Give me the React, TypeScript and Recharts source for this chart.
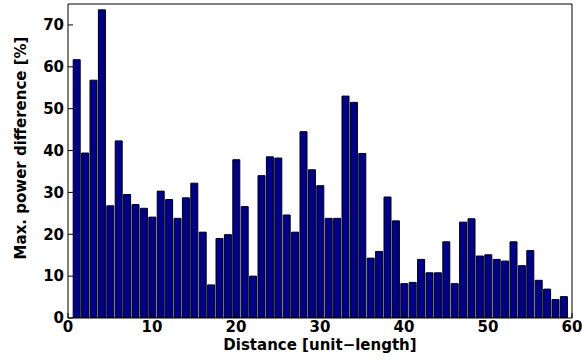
import { BarChart, Bar, XAxis, YAxis } from "recharts";

const distances = [
  1, 2, 3, 4, 5, 6, 7, 8, 9, 10, 11, 12, 13, 14, 15, 16, 17, 18, 19, 20,
  21, 22, 23, 24, 25, 26, 27, 28, 29, 30, 31, 32, 33, 34, 35, 36, 37, 38, 39, 40,
  41, 42, 43, 44, 45, 46, 47, 48, 49, 50, 51, 52, 53, 54, 55, 56, 57, 58, 59,
];

const maxPowerDiff = [
  61.7, 39.4, 56.8, 73.6, 26.8, 42.3, 29.5, 27.1, 26.2, 24.1, 30.3, 28.3, 23.8, 28.7, 32.2, 20.5, 7.9, 19.0, 19.9, 37.8,
  26.6, 10.0, 34.0, 38.5, 38.2, 24.6, 20.5, 44.5, 35.4, 31.6, 23.8, 23.8, 53.0, 51.5, 39.3, 14.3, 15.9, 28.9, 23.2, 8.2,
  8.5, 14.0, 10.8, 10.8, 18.2, 8.2, 22.9, 23.7, 14.8, 15.1, 14.0, 13.6, 18.2, 12.5, 16.1, 9.0, 6.9, 4.4, 5.1,
];

const xTicks = [0, 10, 20, 30, 40, 50, 60];
const yTicks = [0, 10, 20, 30, 40, 50, 60, 70];

const data = distances.map((d, i) => ({ distance: d, value: maxPowerDiff[i] }));

const font = "'DejaVu Sans', sans-serif";
const tickStyle = { fontSize: 15, fontWeight: 700, fill: "#000", fontFamily: font };
const labelStyle = { fontSize: 15, fontWeight: 700, fill: "#000", fontFamily: font };

export default function App() {
  return (
    <div style={{ position: "absolute", left: 0, top: 0, background: "#fff" }}>
      <BarChart
        width={582}
        height={360}
        data={data}
        margin={{ top: 3, right: 9, left: 0, bottom: 0 }}
        barCategoryGap={0}
      >
        <XAxis
          dataKey="distance"
          type="number"
          domain={[0, 60]}
          ticks={xTicks}
          allowDataOverflow
          height={42}
          stroke="#000"
          tickSize={-5}
          tickMargin={8}
          tick={tickStyle}
          label={{ value: "Distance [unit−length]", position: "center", dy: 6, style: labelStyle }}
        />
        <XAxis
          xAxisId="top"
          dataKey="distance"
          type="number"
          orientation="top"
          domain={[0, 60]}
          ticks={xTicks}
          allowDataOverflow
          height={1}
          stroke="#000"
          tickSize={-5}
          tick={false}
        />
        <YAxis
          type="number"
          domain={[0, 75]}
          ticks={yTicks}
          allowDataOverflow
          width={68}
          stroke="#000"
          tickSize={-5}
          tickMargin={9}
          tick={tickStyle}
          label={{ value: "Max. power difference [%]", angle: -90, position: "center", dx: -13, dy: -13, style: labelStyle }}
        />
        <YAxis
          yAxisId="right"
          type="number"
          orientation="right"
          domain={[0, 75]}
          ticks={yTicks}
          allowDataOverflow
          width={1}
          stroke="#000"
          tickSize={-5}
          tick={false}
        />
        <Bar
          dataKey="value"
          fill="#00008F"
          stroke="#000"
          strokeWidth={1}
          barSize={7}
          isAnimationActive={false}
        />
      </BarChart>
    </div>
  );
}
